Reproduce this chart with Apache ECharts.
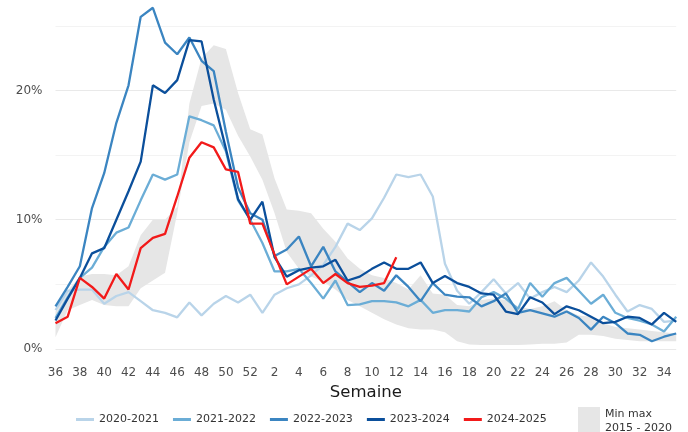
<!DOCTYPE html>
<html>
<head>
<meta charset="utf-8">
<script src="https://cdn.jsdelivr.net/npm/echarts@6/dist/echarts.min.js"></script>
<style>html,body{margin:0;padding:0;background:#fff;}#c{width:688px;height:432px;}</style>
</head>
<body>
<div id="c"></div>
<script>
// Weeks (x categories)
const weeks = ['36','37','38','39','40','41','42','43','44','45','46','47','48','49','50','51','52',
  '1','2','3','4','5','6','7','8','9','10','11','12','13','14','15','16','17','18','19','20',
  '21','22','23','24','25','26','27','28','29','30','31','32','33','34','35'];

// Season series (% of ER visits)
const s2020_2021 = [3.0,4.5,4.6,4.6,3.5,4.1,4.4,3.7,3.0,2.8,2.45,3.6,2.6,3.5,4.1,3.6,4.2,
  2.8,4.2,4.7,5.0,5.7,6.5,7.9,9.7,9.2,10.1,11.7,13.5,13.3,13.5,11.8,6.6,4.5,3.5,4.4,5.4,
  4.3,5.1,3.9,4.4,4.8,4.4,5.3,6.7,5.6,4.2,2.9,3.4,3.1,2.1,2.2];
const s2021_2022 = [2.4,4.0,5.5,6.3,7.9,9.0,9.4,11.5,13.5,13.1,13.5,18.0,17.7,17.3,15.3,11.5,10.0,
  8.2,6.0,6.0,6.2,5.1,3.9,5.3,3.4,3.45,3.7,3.7,3.6,3.3,3.8,2.8,3.0,3.0,2.9,4.0,4.4,
  3.9,3.1,5.1,4.05,5.1,5.5,4.5,3.5,4.2,2.8,2.4,2.2,1.9,1.35,2.5];
const s2022_2023 = [3.3,4.8,6.4,10.9,13.6,17.5,20.4,25.7,26.4,23.7,22.8,24.1,22.3,21.5,16.8,12.5,10.5,
  10.0,7.2,7.7,8.7,6.4,7.9,6.0,5.2,4.4,5.1,4.5,5.7,4.8,3.7,5.1,4.2,4.05,4.0,3.3,3.7,
  4.3,2.8,3.0,2.75,2.5,2.9,2.4,1.5,2.5,2.0,1.2,1.1,0.6,0.95,1.2];
const s2023_2024 = [2.2,3.9,5.5,7.4,7.8,10.0,12.2,14.5,20.4,19.8,20.8,23.9,23.8,19.3,15.5,11.6,10.0,
  11.4,7.1,5.6,6.1,6.3,6.4,6.9,5.3,5.6,6.2,6.7,6.2,6.2,6.7,5.1,5.65,5.1,4.8,4.3,4.2,
  2.9,2.7,4.0,3.6,2.7,3.3,3.0,2.5,2.0,2.1,2.5,2.4,1.9,2.8,2.1];
const s2024_2025 = [2.0,2.5,5.5,4.8,3.9,5.8,4.6,7.8,8.6,8.9,11.8,14.8,16.0,15.6,13.9,13.7,9.7,
  9.7,7.3,5.0,5.6,6.2,5.1,5.8,5.1,4.8,4.9,5.1,7.1];

// Min / max 2015-2020
const bandMin = [0.9,3.0,3.4,3.8,3.4,3.3,3.3,4.7,5.3,5.9,10.5,16.0,18.8,19.0,18.5,16.5,14.9,
  13.1,10.5,7.5,6.2,5.6,5.2,4.6,3.8,3.3,2.8,2.3,1.9,1.6,1.5,1.5,1.3,0.6,0.35,0.3,0.3,
  0.3,0.3,0.35,0.4,0.4,0.5,1.1,1.1,1.0,0.8,0.7,0.6,0.6,0.6,0.6];
const bandMax = [2.9,4.5,5.6,5.8,5.8,5.7,6.4,8.8,10.0,10.0,11.0,19.0,22.5,23.5,23.2,19.8,17.0,
  16.6,13.2,10.8,10.7,10.5,9.3,8.3,7.0,6.2,5.7,5.5,5.1,4.6,5.7,4.3,4.2,3.4,3.3,3.8,3.9,
  3.8,3.3,3.1,3.3,3.7,3.0,2.6,2.5,2.0,1.7,1.6,1.5,1.4,1.3,1.2];

const yLabelTicks = [0, 10, 20];

const seasonNames = ['2020-2021','2021-2022','2022-2023','2023-2024','2024-2025'];
const seasonData = [s2020_2021, s2021_2022, s2022_2023, s2023_2024, s2024_2025];
const seasonColors = ['#b9d4e9','#6badd6','#3b85c1','#0b4f9b','#f21a1a'];

const bandWidth = bandMax.map((v, i) => +(v - bandMin[i]).toFixed(3));

const chart = echarts.init(document.getElementById('c'), null, {renderer: 'canvas'});
const FONT = 'DejaVu Sans';

const series = [
  {
    name: 'bandLow', type: 'line', stack: 'band', data: bandMin,
    symbol: 'none', lineStyle: {opacity: 0, width: 0}, silent: true, z: 1
  },
  {
    name: 'minmax', type: 'line', stack: 'band', data: bandWidth,
    symbol: 'none', lineStyle: {opacity: 0, width: 0},
    areaStyle: {color: '#e6e6e6', opacity: 1},
    itemStyle: {color: '#e6e6e6'}, color: '#e6e6e6', silent: true, z: 1
  }
];
seasonNames.forEach((n, k) => {
  series.push({
    name: n, type: 'line', data: seasonData[k], symbol: 'none',
    color: seasonColors[k],
    lineStyle: {width: 2.3, color: seasonColors[k]},
    itemStyle: {color: seasonColors[k]},
    z: 2 + k
  });
});

const MAJ = '#e9e9e9', MIN = '#f3f3f3';

chart.setOption({
  animation: false,
  backgroundColor: '#ffffff',
  textStyle: {fontFamily: FONT},
  grid: {left: 55.5, right: 11.8, top: 0, bottom: 83, containLabel: false},
  xAxis: {
    type: 'category', data: weeks, boundaryGap: false,
    axisLine: {show: false}, axisTick: {show: false},
    axisLabel: {interval: 1, color: '#4d4d4d', fontSize: 12, fontFamily: FONT, margin: 18},
    splitLine: {show: false},
    name: 'Semaine', nameLocation: 'middle', nameGap: 30,
    nameTextStyle: {color: '#1a1a1a', fontSize: 16.5, fontFamily: FONT}
  },
  yAxis: {
    type: 'value', min: 0, max: 27, interval: 5,
    axisLine: {show: false}, axisTick: {show: false},
    axisLabel: {
      color: '#4d4d4d', fontSize: 12, fontFamily: FONT, margin: 13,
      formatter: v => (yLabelTicks.indexOf(v) >= 0 ? v + '%' : '')
    },
    splitLine: {show: true, lineStyle: {color: [MAJ, MIN, MAJ, MIN, MAJ, MIN, 'rgba(0,0,0,0)'], width: 1.1}}
  },
  legend: [
    {
      data: seasonNames, left: 71, top: 409, icon: 'rect',
      itemWidth: 18, itemHeight: 3, itemGap: 14,
      textStyle: {color: '#333333', fontSize: 11, fontFamily: FONT},
      selectedMode: false
    },
    {
      data: ['minmax'], left: 573, top: 402, icon: 'rect',
      itemWidth: 22, itemHeight: 29, itemGap: 0,
      formatter: () => 'Min max\n2015 - 2020',
      textStyle: {color: '#333333', fontSize: 11, fontFamily: FONT, lineHeight: 14},
      selectedMode: false
    }
  ],
  series: series
});
</script>
</body>
</html>
